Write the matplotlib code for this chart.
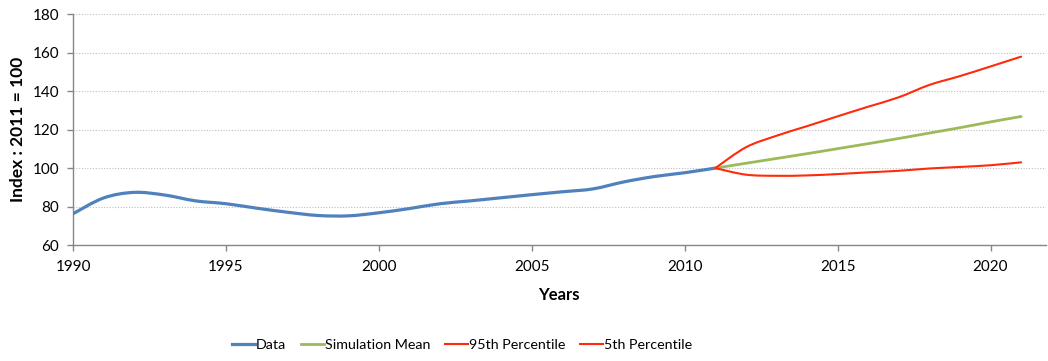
import matplotlib
matplotlib.use('Agg')
from matplotlib import pyplot as plt
from matplotlib.path import Path
from matplotlib.patches import PathPatch
from matplotlib.lines import Line2D
import numpy as np

# historical index (2011 = 100)
years_data = list(range(1990, 2012))
data = [76.3, 84.5, 87.4, 86.0, 83.0, 81.5, 79.2, 77.1, 75.4, 75.2, 76.8,
        79.0, 81.5, 83.0, 84.6, 86.2, 87.7, 89.2, 92.8, 95.6, 97.6, 100.0]

# simulated paths from 2011 onwards
years_sim = list(range(2011, 2022))
sim_mean = [100.0, 102.5, 105.0, 107.5, 110.1, 112.7, 115.4, 118.2, 121.0, 124.0, 126.8]
p95 = [100.0, 110.8, 116.8, 121.8, 126.9, 131.9, 136.8, 143.2, 147.8, 152.8, 157.9]
p5 = [100.0, 96.6, 96.0, 96.2, 96.9, 97.8, 98.6, 99.8, 100.6, 101.5, 103.0]

BLUE = '#4F81BD'
GREEN = '#9BBB59'
RED = '#FF2A0A'


def smooth_line(ax, x, y, color, lw, zorder):
    # smoothed line like a spreadsheet chart: cubic bezier segments through the points
    pts = np.column_stack([x, y]).astype(float)
    n = len(pts)
    verts = [pts[0]]
    codes = [Path.MOVETO]
    for i in range(n - 1):
        p0 = pts[max(i - 1, 0)]
        p1 = pts[i]
        p2 = pts[i + 1]
        p3 = pts[min(i + 2, n - 1)]
        c1 = p1 + (p2 - p0) / 6.0
        c2 = p2 - (p3 - p1) / 6.0
        verts += [c1, c2, p2]
        codes += [Path.CURVE4] * 3
    patch = PathPatch(Path(verts, codes), fill=False, edgecolor=color, lw=lw,
                      joinstyle='round', capstyle='round', zorder=zorder)
    ax.add_patch(patch)


plt.rcParams['font.family'] = ['Lato', 'DejaVu Sans']

fig = plt.figure(figsize=(10.48, 3.61), dpi=100)
ax = fig.add_axes([0.0697, 0.321, 0.928, 0.64])

smooth_line(ax, years_data, data, BLUE, 2.3, 3)
smooth_line(ax, years_sim, sim_mean, GREEN, 2.0, 3)
smooth_line(ax, years_sim, p95, RED, 1.5, 4)
smooth_line(ax, years_sim, p5, RED, 1.5, 4)

ax.set_xlim(1990, 2021.8)
ax.set_ylim(60, 180)
ax.set_xticks(range(1990, 2021, 5))
ax.set_yticks(range(60, 181, 20))
ax.yaxis.grid(True, color='#BFBFBF', linestyle=(0, (1, 1.5)), lw=0.8)
ax.set_axisbelow(True)

for side in ('top', 'right'):
    ax.spines[side].set_visible(False)
for side in ('left', 'bottom'):
    ax.spines[side].set_color('#868686')
    ax.spines[side].set_linewidth(1.0)
ax.tick_params(axis='both', colors='#868686', labelcolor='black', labelsize=11,
               length=4, width=1.0)
ax.tick_params(axis='x', pad=7)
ax.tick_params(axis='y', pad=6)

ax.set_xlabel('Years', fontsize=12, fontweight='bold', labelpad=9)
ax.set_ylabel('Index : 2011 = 100', fontsize=12.5, fontweight='bold', labelpad=5)

handles = [Line2D([], [], color=BLUE, lw=2.3),
           Line2D([], [], color=GREEN, lw=2.0),
           Line2D([], [], color=RED, lw=1.5),
           Line2D([], [], color=RED, lw=1.5)]
labels = ['Data', 'Simulation Mean', '95th Percentile', '5th Percentile']
fig.legend(handles, labels, loc='center left', bbox_to_anchor=(0.209, 0.043), ncol=4,
           frameon=False, fontsize=10.3, handlelength=1.6, handletextpad=0.1,
           columnspacing=1.0)

fig.savefig('out.png', dpi=100)
